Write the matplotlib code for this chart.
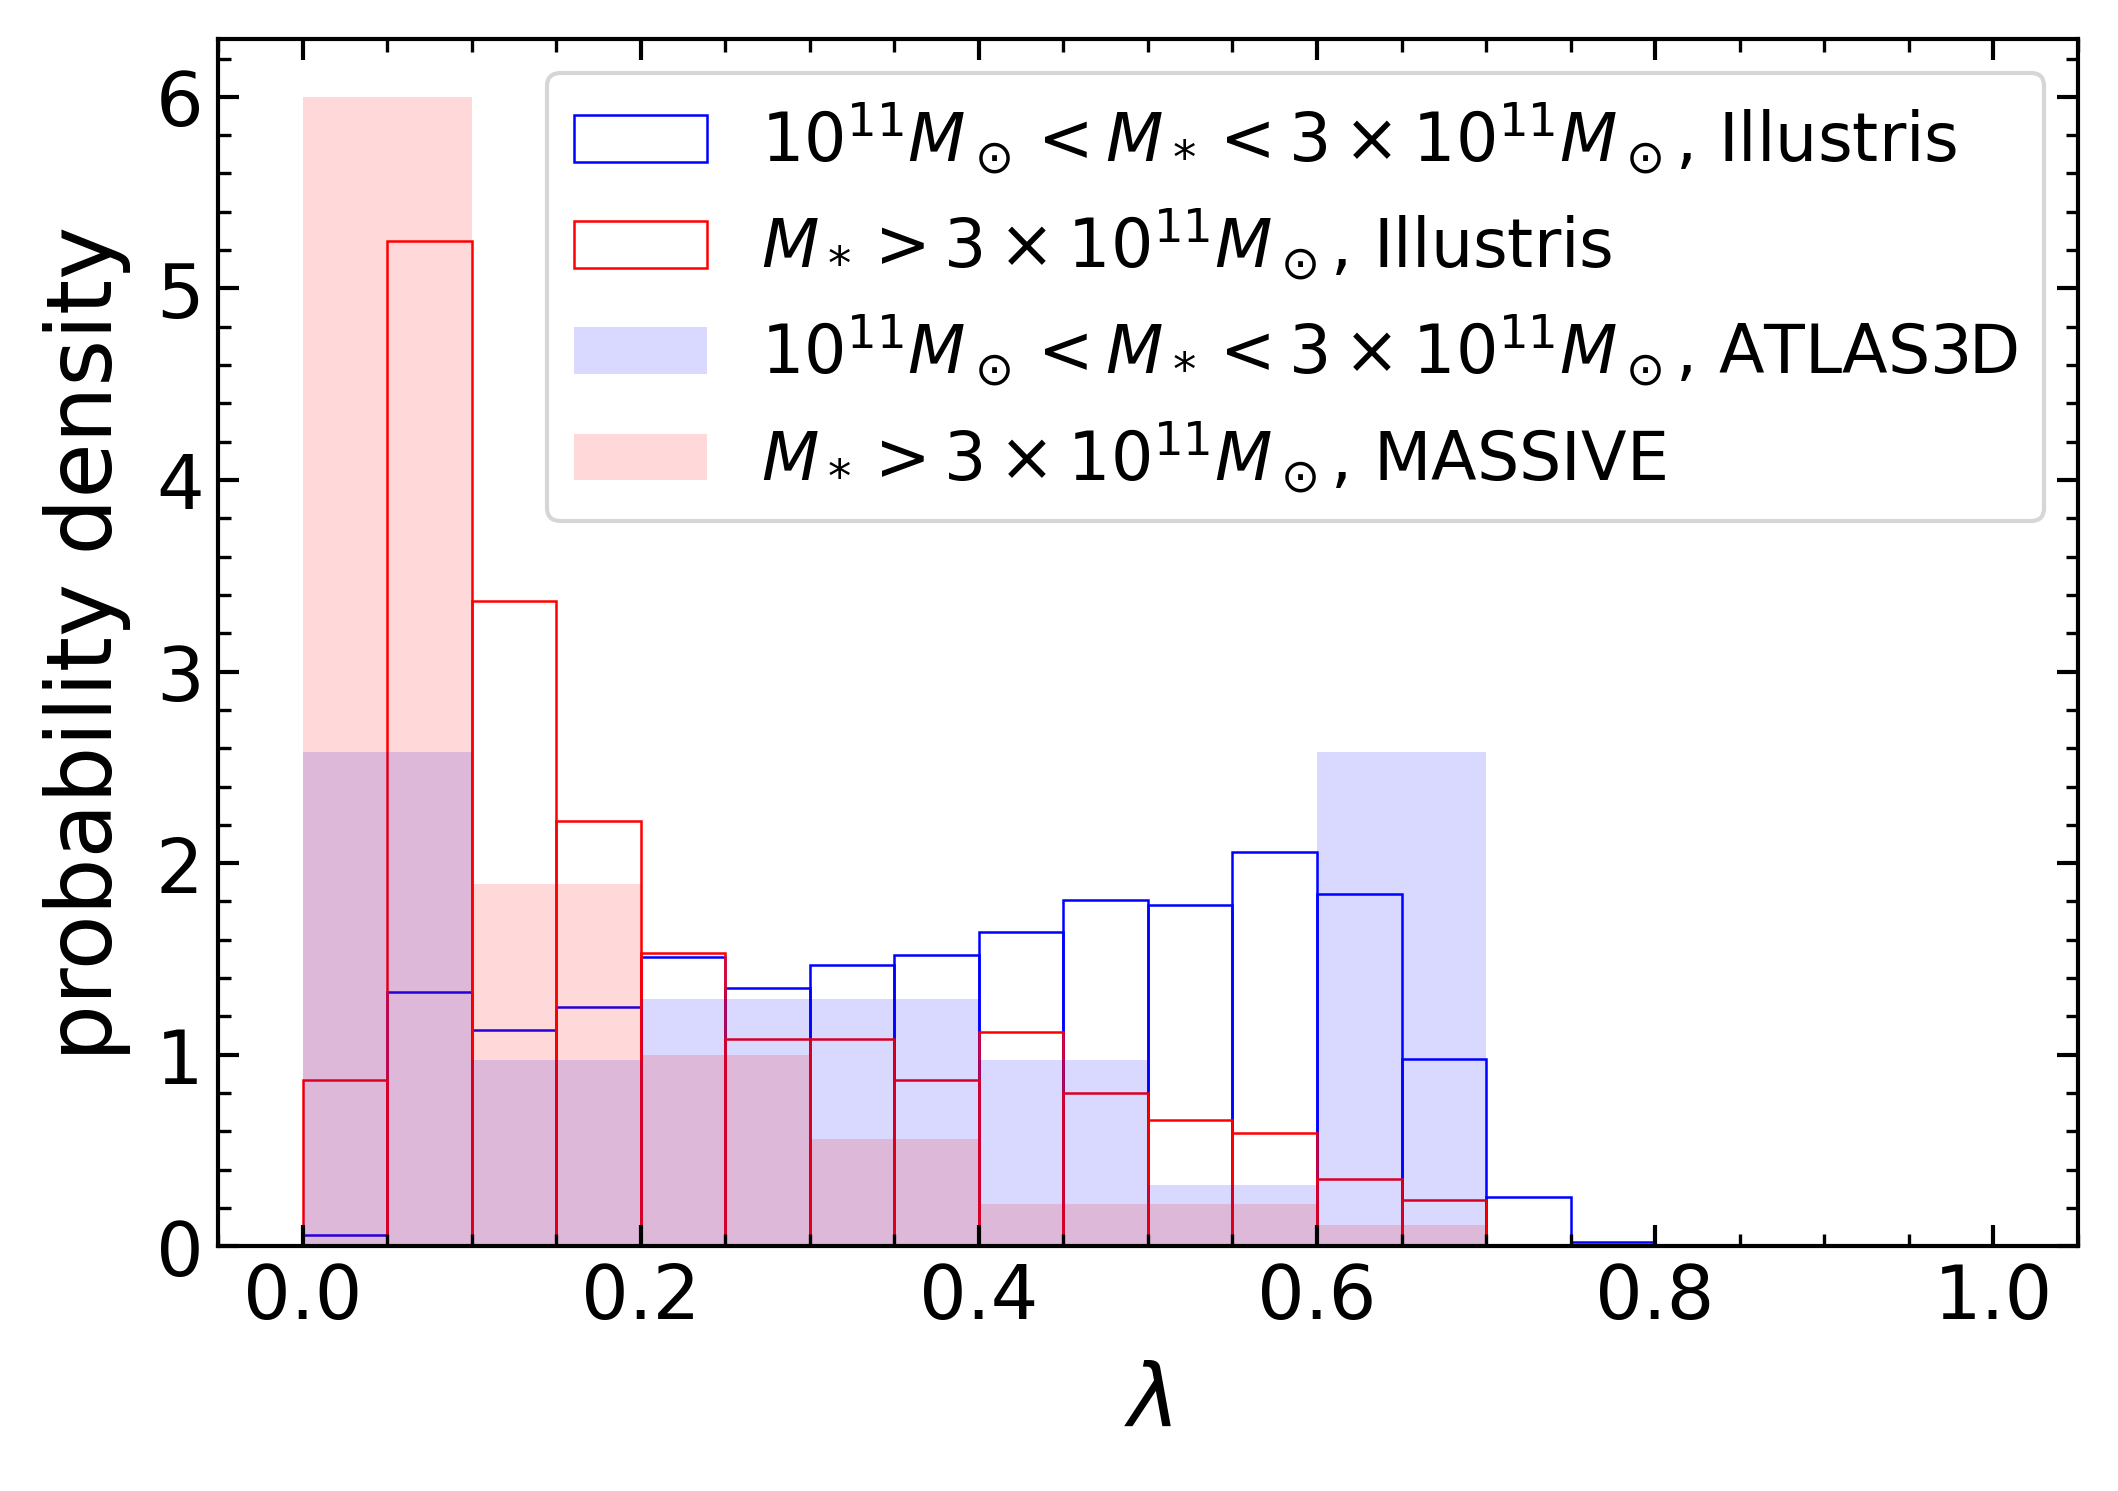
import numpy as np
import matplotlib
matplotlib.use("Agg")
import matplotlib.pyplot as plt
from matplotlib.ticker import MultipleLocator

# bins
fine_edges = [0.0, 0.05, 0.1, 0.15, 0.2, 0.25, 0.3, 0.35, 0.4, 0.45, 0.5, 0.55, 0.6, 0.65, 0.7, 0.75, 0.8]
coarse_edges = [0.0, 0.1, 0.2, 0.3, 0.4, 0.5, 0.6, 0.7]

# Illustris, 1e11 < M < 3e11
ill_low = [0.06, 1.33, 1.13, 1.25, 1.51, 1.35, 1.47, 1.52, 1.64, 1.81, 1.78, 2.06, 1.84, 0.98, 0.26, 0.02]
# Illustris, M > 3e11
ill_high = [0.87, 5.25, 3.37, 2.22, 1.53, 1.08, 1.08, 0.87, 1.12, 0.80, 0.66, 0.59, 0.35, 0.24, 0.0, 0.0]
# ATLAS3D
atlas = [2.58, 0.97, 1.29, 1.29, 0.97, 0.32, 2.58]
# MASSIVE
massive = [6.0, 1.89, 1.0, 0.56, 0.22, 0.22, 0.11]

labels = [
    r'$10^{11}M_\odot<M_*<3\times10^{11}M_\odot$, Illustris',
    r'$M_*>3\times10^{11}M_\odot$, Illustris',
    r'$10^{11}M_\odot<M_*<3\times10^{11}M_\odot$, ATLAS3D',
    r'$M_*>3\times10^{11}M_\odot$, MASSIVE',
]

fig = plt.figure(figsize=(7.06, 4.973), dpi=300)
ax = fig.add_axes([0.103, 0.164, 0.878, 0.809])

fine_mid = (np.array(fine_edges[:-1]) + np.array(fine_edges[1:])) / 2
coarse_mid = (np.array(coarse_edges[:-1]) + np.array(coarse_edges[1:])) / 2

# drop empty bins so no zero-height outlines are drawn
hi_mask = np.array(ill_high) > 0
ax.hist(fine_mid, bins=fine_edges, weights=ill_low, fill=False, edgecolor='blue', lw=0.6, label=labels[0])
ax.hist(fine_mid[hi_mask], bins=fine_edges, weights=np.array(ill_high)[hi_mask], fill=False,
        edgecolor='red', lw=0.6, label=labels[1])
ax.hist(coarse_mid, bins=coarse_edges, weights=atlas, color='blue', alpha=0.15, label=labels[2])
ax.hist(coarse_mid, bins=coarse_edges, weights=massive, color='red', alpha=0.15, label=labels[3])

ax.set_xlim(-0.05, 1.05)
ax.set_ylim(0, 6.3)
ax.xaxis.set_major_locator(MultipleLocator(0.2))
ax.xaxis.set_minor_locator(MultipleLocator(0.05))
ax.yaxis.set_major_locator(MultipleLocator(1))
ax.yaxis.set_minor_locator(MultipleLocator(0.2))
ax.tick_params(which='both', direction='in', top=True, right=True, labelsize=18)
ax.tick_params(which='major', length=5, width=1)
ax.tick_params(which='minor', length=3, width=0.8)
for s in ax.spines.values():
    s.set_linewidth(1)

ax.set_xlabel(r'$\lambda$', fontsize=21, labelpad=6)
ax.set_ylabel('probability density', fontsize=21.5, labelpad=6)
ax.legend(loc='upper right', fontsize=16, labelspacing=0.45)

fig.savefig('out.png', dpi=300)
